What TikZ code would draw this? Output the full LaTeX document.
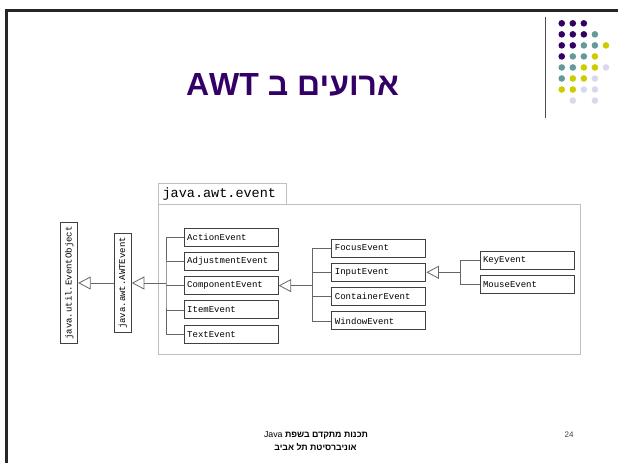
\documentclass[tikz,border=0pt]{standalone}
\usepackage{fontspec}
\setmonofont{Liberation Mono}
\newfontfamily\hebfont[Script=Hebrew]{Liberation Sans}
\TeXXeTstate=1
\usepackage{tikz}
\usetikzlibrary{positioning, arrows.meta}
\definecolor{titlepurple}{HTML}{330066}
\definecolor{dotA}{HTML}{330066}
\definecolor{dotB}{HTML}{669999}
\definecolor{dotC}{HTML}{CCCC00}
\definecolor{dotD}{HTML}{D9D9EE}
\tikzset{
x=1pt, y=-1pt, % pixel-like coordinates, y goes down
node distance=5.3pt, % gap between stacked event boxes
evbox/.style={draw=black!75, line width=1pt, fill=white, minimum height=18pt, text width=88pt, inner sep=3pt, align=left, font=\ttfamily\fontsize{9}{9}\selectfont}, % one event class
vbox/.style={draw=black!75, line width=1pt, fill=white, rotate=90, minimum height=17pt, inner sep=2pt, font=\ttfamily\fontsize{9}{9}\selectfont}, % rotated class
link/.style={draw=black!60, line width=0.8pt}, % plain branch line
inh/.style={link, -{Triangle[open, length=12.5pt, width=13pt, fill=white]}}, % inheritance arrow
spotA/.style={fill=dotA}, spotB/.style={fill=dotB}, % logo dots
spotC/.style={fill=dotC}, spotD/.style={fill=dotD},
spotN/.style={}, % empty place in the grid
frame/.style={draw=black!85, line width=2.6pt},
}
\begin{document}
\begin{tikzpicture}
\useasboundingbox (0,0) rectangle (618,463);
% slide frame and logo
\draw[frame] (618,10.3) -| (6.3,463);
\draw[black!70, line width=1pt] (545,17) -- (545,118);
\foreach \row [count=\j] in {{A,A,A},{A,A,A,B},{A,A,B,B,C},{A,B,B,C},{B,B,C,C,D},{B,C,C,D},{C,C,D,D},{N,D,N,D}}
  \foreach \c [count=\i] in \row
    \path[spot\c] (550.7+11.05*\i, 12.3+11.03*\j) circle (3.3);
\node[anchor=base, text=titlepurple, font=\hebfont\bfseries\fontsize{32}{32}\selectfont] (title) at (292.5,95) {\beginR ארועים ב \beginL AWT\endL\endR};

% package java.awt.event
\draw[black!25, line width=0.9pt] (158.3,204.3) rectangle (580,354);
\node[draw=black!25, line width=0.9pt, anchor=north west, minimum width=127.7pt, minimum height=21pt, text width=120pt, inner sep=3pt, align=left, font=\ttfamily\fontsize{13.5}{13.5}\selectfont] (pkgtab) at (158.3,183.3) {java.awt.event};

% classes
\node[vbox, minimum width=121.6pt] (evobj) at (69.2,283) {java.util.EventObject};
\node[vbox, minimum width=99.4pt] (awtev) at (122.8,283) {java.awt.AWTEvent};
\node[evbox] (action) at (231.2,237) {ActionEvent};
\node[evbox, below=of action] (adjust) {AdjustmentEvent};
\node[evbox, below=of adjust] (compev) {ComponentEvent};
\node[evbox, below=of compev] (item) {ItemEvent};
\node[evbox, below=of item] (textev) {TextEvent};
\node[evbox] (focus) at (378.9,248) {FocusEvent};
\node[evbox, below=of focus] (input) {InputEvent};
\node[evbox, below=of input] (contev) {ContainerEvent};
\node[evbox, below=of contev] (window) {WindowEvent};
\node[evbox] (key) at (527,260) {KeyEvent};
\node[evbox, below=of key] (mouse) {MouseEvent};

% inheritance (rotated boxes: north is their left side, south their right side)
\coordinate (t1) at (166,283);
\coordinate (t2) at ([xshift=33.8pt]compev.east);
\coordinate (t3) at ([xshift=33.5pt]input.east);
\draw[inh] (awtev.north) -- (evobj.south);
\draw[link] (action.west) -| (t1) |- (textev.west);
\draw[link] (adjust.west) -- (adjust.west -| t1);
\draw[link] (compev.west) -- (compev.west -| t1);
\draw[link] (item.west) -- (item.west -| t1);
\draw[inh] (t1) -- (awtev.south);
\draw[link] (focus.west) -| (t2) |- (window.west);
\draw[link] (input.west) -- (input.west -| t2);
\draw[link] (contev.west) -- (contev.west -| t2);
\draw[inh] (t2) -- (compev.east);
\draw[link] (key.west) -| (t3) |- (mouse.west);
\draw[inh] (t3) -- (input.east);

% footer
\node[font=\hebfont\bfseries\fontsize{8.8}{8.8}\selectfont] (course) at (316,435) {\beginR תכנות מתקדם בשפת \beginL\mdseries Java\endL\endR};
\node[font=\hebfont\bfseries\fontsize{8.8}{8.8}\selectfont] (univ) at (315.5,447.5) {\beginR אוניברסיטת תל אביב\endR};
\node[text=black!75, font=\hebfont\fontsize{8}{8}\selectfont] (pagenum) at (569,435) {24};
\end{tikzpicture}
\end{document}
